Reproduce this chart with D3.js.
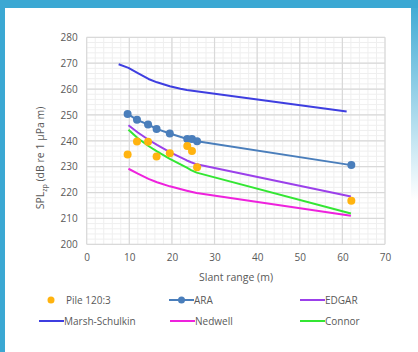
<!DOCTYPE html>
<html>
<head>
<meta charset="utf-8">
<script src="https://cdn.jsdelivr.net/npm/d3@7"></script>
<style>
  html, body { margin: 0; padding: 0; background: #ffffff; }
  svg { display: block; }
  text { font-family: "Open Sans", "Liberation Sans", sans-serif; fill: #595959; }
</style>
</head>
<body>
<svg id="chart" width="418" height="352"></svg>
<script>
// Measured slant ranges (m) for the pile strike and ARA
const rangeM = [9.6, 11.8, 14.4, 16.4, 19.5, 23.6, 24.7, 25.9, 62.1];
const pileValues = [234.7, 239.7, 239.6, 233.9, 235.2, 238.0, 236.1, 229.8, 216.8];
const araValues = [250.4, 248.1, 246.3, 244.6, 242.8, 240.7, 240.7, 239.8, 230.6];

// Model curves
const modelRange = [9.8, 12, 14.5, 16.5, 19.5, 23.5, 24.5, 25.8, 62];
const edgarValues = [246.0, 243.2, 240.4, 238.4, 235.6, 232.4, 231.7, 230.9, 218.5];
const connorValues = [244.3, 241.0, 238.0, 235.9, 233.0, 229.6, 228.7, 227.7, 211.9];
const nedwellValues = [229.2, 227.3, 225.3, 224.0, 222.4, 220.7, 220.3, 219.8, 211.0];
const marshRange = [7.5, 9.8, 12, 14.5, 16.5, 19.5, 22, 23.5, 61];
const marshValues = [269.6, 268.2, 266.2, 263.9, 262.6, 261.1, 260.1, 259.6, 251.3];

const xTicks = [0, 10, 20, 30, 40, 50, 60, 70];
const yTicks = [200, 210, 220, 230, 240, 250, 260, 270, 280];

const svg = d3.select("#chart");
const W = 418, H = 352;

// Slide frame
const frameGrad = svg.append("defs").append("linearGradient")
  .attr("id", "frameFade").attr("x1", 0).attr("y1", 0).attr("x2", 0).attr("y2", 1);
frameGrad.append("stop").attr("offset", "0%").attr("stop-color", "#3ba8d3");
frameGrad.append("stop").attr("offset", "100%").attr("stop-color", "#3ba8d3").attr("stop-opacity", 0);
svg.append("rect").attr("x", 0).attr("y", 0).attr("width", W).attr("height", H).attr("fill", "#ffffff");
svg.append("rect").attr("x", 0).attr("y", 0).attr("width", W).attr("height", 8).attr("fill", "#3ba8d3");
svg.append("rect").attr("x", 0).attr("y", 0).attr("width", 5).attr("height", H).attr("fill", "#3ba8d3");
svg.append("rect").attr("x", 411).attr("y", 0).attr("width", 7).attr("height", 200).attr("fill", "url(#frameFade)");

const plot = { left: 86.7, right: 385, top: 37.3, bottom: 244.3 };
const x = d3.scaleLinear().domain([0, 70]).range([plot.left, plot.right]);
const y = d3.scaleLinear().domain([200, 280]).range([plot.bottom, plot.top]);

// Minor grid
const g = svg.append("g");
g.selectAll(".minorX").data(d3.range(0, 70.01, 2)).join("line")
  .attr("x1", d => x(d)).attr("x2", d => x(d)).attr("y1", plot.top).attr("y2", plot.bottom)
  .attr("stroke", "#efefef").attr("stroke-width", 1);
g.selectAll(".minorY").data(d3.range(200, 280.01, 2)).join("line")
  .attr("y1", d => y(d)).attr("y2", d => y(d)).attr("x1", plot.left).attr("x2", plot.right)
  .attr("stroke", "#efefef").attr("stroke-width", 1);
// Major grid
g.selectAll(".majorX").data(xTicks).join("line")
  .attr("x1", d => x(d)).attr("x2", d => x(d)).attr("y1", plot.top).attr("y2", plot.bottom)
  .attr("stroke", "#d9d9d9").attr("stroke-width", 1.2);
g.selectAll(".majorY").data(yTicks).join("line")
  .attr("y1", d => y(d)).attr("y2", d => y(d)).attr("x1", plot.left).attr("x2", plot.right)
  .attr("stroke", "#d9d9d9").attr("stroke-width", 1.2);

// Axes (labels only)
const xAxis = svg.append("g").attr("transform", `translate(0,${plot.bottom})`)
  .call(d3.axisBottom(x).tickValues(xTicks).tickSize(0).tickPadding(10));
const yAxis = svg.append("g").attr("transform", `translate(${plot.left},0)`)
  .call(d3.axisLeft(y).tickValues(yTicks).tickSize(0).tickPadding(9));
[xAxis, yAxis].forEach(a => {
  a.select(".domain").remove();
  a.selectAll("text").style("font-size", "10px").attr("fill", "#595959")
    .style("font-family", "'Open Sans', 'Liberation Sans', sans-serif");
});

// Axis titles
svg.append("text").attr("x", 236).attr("y", 281).attr("text-anchor", "middle")
  .style("font-size", "10.5px").text("Slant range (m)");
const yt = svg.append("text").attr("transform", "translate(44,158) rotate(-90)")
  .attr("text-anchor", "middle").style("font-size", "10.5px");
yt.append("tspan").text("SPL");
yt.append("tspan").attr("dy", 3).style("font-size", "7px").text("zp");
yt.append("tspan").attr("dy", -3).text(" (dB re 1 µPa m)");

// Lines, point to point
const line = (xs, ys) => d3.line().x((d, i) => x(xs[i])).y(d => y(d))(ys);
const series = [
  { name: "Marsh-Schulkin", xs: marshRange, ys: marshValues, color: "#3e3ee0" },
  { name: "Nedwell", xs: modelRange, ys: nedwellValues, color: "#ee22dd" },
  { name: "Connor", xs: modelRange, ys: connorValues, color: "#33e633" },
  { name: "EDGAR", xs: modelRange, ys: edgarValues, color: "#9b40ea" },
  { name: "ARA", xs: rangeM, ys: araValues, color: "#4a7ebb" }
];
series.forEach(s => {
  svg.append("path").attr("d", line(s.xs, s.ys)).attr("fill", "none")
    .attr("stroke", s.color).attr("stroke-width", 2).attr("stroke-linejoin", "round");
});
svg.selectAll(".araPt").data(araValues).join("circle")
  .attr("cx", (d, i) => x(rangeM[i])).attr("cy", d => y(d)).attr("r", 4)
  .attr("fill", "#4a7ebb");
svg.selectAll(".pilePt").data(pileValues).join("circle")
  .attr("cx", (d, i) => x(rangeM[i])).attr("cy", d => y(d)).attr("r", 4)
  .attr("fill", "#ffb30f");

// Legend
const leg = svg.append("g").style("font-size", "10px");
const legendItems = [
  { label: "Pile 120:3", type: "dot", color: "#ffb30f", x: 51, y: 300 },
  { label: "ARA", type: "lineDot", color: "#4a7ebb", x: 169, y: 300 },
  { label: "EDGAR", type: "line", color: "#9b40ea", x: 300, y: 300 },
  { label: "Marsh-Schulkin", type: "line", color: "#3e3ee0", x: 39, y: 321 },
  { label: "Nedwell", type: "line", color: "#ee22dd", x: 170, y: 321 },
  { label: "Connor", type: "line", color: "#33e633", x: 300, y: 321 }
];
legendItems.forEach(it => {
  if (it.type === "dot") {
    leg.append("circle").attr("cx", it.x).attr("cy", it.y).attr("r", 3.5).attr("fill", it.color);
    leg.append("text").attr("x", it.x + 15).attr("y", it.y + 3.5).text(it.label);
  } else {
    leg.append("line").attr("x1", it.x).attr("x2", it.x + 25).attr("y1", it.y).attr("y2", it.y)
      .attr("stroke", it.color).attr("stroke-width", 2);
    if (it.type === "lineDot") {
      leg.append("circle").attr("cx", it.x + 12.5).attr("cy", it.y).attr("r", 3.5).attr("fill", it.color);
    }
    leg.append("text").attr("x", it.x + 25).attr("y", it.y + 3.5).text(it.label);
  }
});
</script>
</body>
</html>
